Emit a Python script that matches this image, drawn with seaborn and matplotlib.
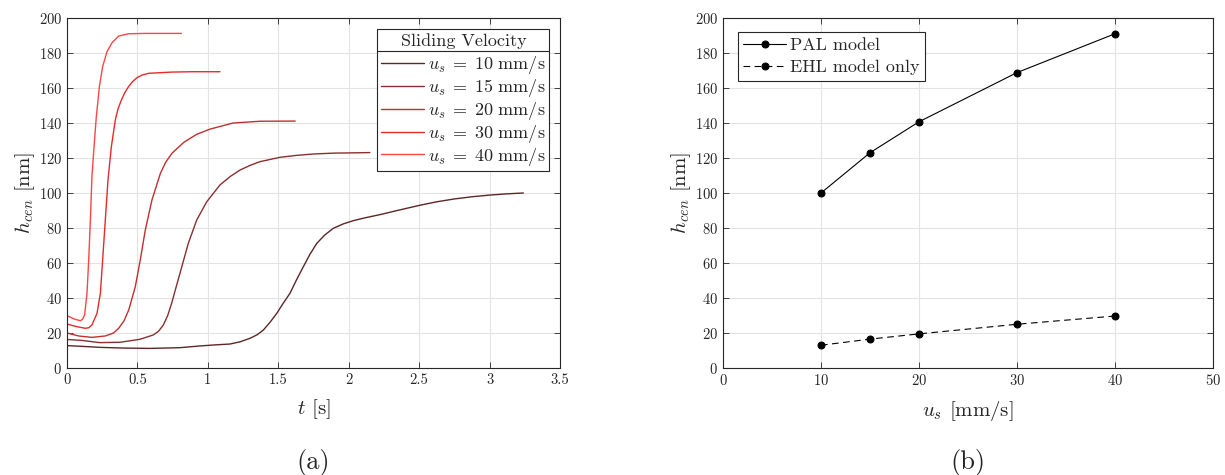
import matplotlib
matplotlib.use("Agg")
import matplotlib.pyplot as plt
import numpy as np
import pandas as pd
import seaborn as sns
from matplotlib.lines import Line2D

# Film thickness history for each sliding velocity (time in s, thickness in nm)
velocities = [10, 15, 20, 30, 40]

t10 = [0.0, 0.1, 0.234, 0.4, 0.589, 0.8, 0.944, 1.05, 1.157, 1.23,
       1.3, 1.35, 1.394, 1.44, 1.489, 1.535, 1.583, 1.63, 1.678, 1.725,
       1.773, 1.83, 1.89, 1.96, 2.033, 2.12, 2.22, 2.35, 2.5, 2.62,
       2.75, 2.88, 3.0, 3.12, 3.24]
h10 = [12.8, 12.4, 11.8, 11.4, 11.2, 11.6, 12.6, 13.2, 13.7, 15.0,
       17.0, 19.0, 21.7, 26.0, 31.2, 37.0, 42.7, 50.5, 57.9, 65.0,
       71.2, 76.0, 79.8, 82.3, 84.2, 85.9, 87.6, 90.1, 92.9, 94.9,
       96.6, 97.9, 98.8, 99.5, 100.0]

t15 = [0.0, 0.1, 0.234, 0.376, 0.518, 0.613, 0.65, 0.684, 0.715, 0.743,
       0.772, 0.802, 0.861, 0.921, 0.992, 1.086, 1.16, 1.228, 1.3, 1.37,
       1.512, 1.63, 1.75, 1.9, 2.08, 2.15]
h15 = [16.3, 15.8, 14.5, 14.7, 16.4, 18.9, 21.0, 24.6, 30.0, 37.0,
       45.5, 54.1, 71.2, 84.6, 95.0, 104.6, 109.5, 113.1, 115.8, 117.9,
       120.4, 121.5, 122.3, 122.8, 123.0, 123.1]

t20 = [0.0, 0.083, 0.177, 0.272, 0.33, 0.367, 0.405, 0.438, 0.485, 0.52,
       0.556, 0.603, 0.663, 0.7, 0.745, 0.83, 0.92, 1.015, 1.18, 1.37, 1.62]
h20 = [20.0, 18.3, 17.5, 18.3, 20.0, 22.7, 27.0, 33.1, 46.5, 61.7,
       78.9, 96.0, 111.2, 117.5, 122.7, 129.0, 133.5, 136.5, 140.0, 141.0, 141.1]

t30 = [0.0, 0.071, 0.13, 0.155, 0.177, 0.213, 0.237, 0.253, 0.272, 0.291,
       0.315, 0.343, 0.362, 0.386, 0.41, 0.438, 0.465, 0.497, 0.53, 0.58,
       0.745, 0.887, 1.086]
h30 = [25.1, 23.6, 22.7, 23.0, 24.6, 31.2, 42.7, 61.7, 84.6, 107.4,
       126.5, 141.7, 148.0, 153.1, 157.3, 160.9, 163.6, 165.9, 167.3, 168.4,
       169.1, 169.3, 169.3]

t40 = [0.0, 0.035, 0.059, 0.095, 0.11, 0.125, 0.142, 0.154, 0.166, 0.177,
       0.192, 0.208, 0.23, 0.253, 0.284, 0.32, 0.367, 0.438, 0.556, 0.812]
h40 = [29.9, 28.6, 27.8, 27.0, 27.8, 30.3, 42.7, 61.7, 84.6, 109.3,
       126.5, 143.6, 160.8, 172.2, 180.8, 185.9, 189.7, 191.0, 191.2, 191.2]

times = [t10, t15, t20, t30, t40]
thicknesses = [h10, h15, h20, h30, h40]
curve_colors = ["#5e2626", "#8a2f2f", "#c0302f", "#e62a2a", "#ff4545"]

# Steady-state central film thickness versus sliding velocity
us_points = [10, 15, 20, 30, 40]
pal_model = [100.0, 123.0, 140.7, 168.8, 191.0]
ehl_model = [13.0, 16.5, 19.5, 25.0, 29.7]

sns.set_style("white")
plt.rcParams.update({
    "font.family": ["cmr10", "DejaVu Serif"],
    "mathtext.fontset": "cm",
    "axes.formatter.use_mathtext": True,
    "axes.edgecolor": "#262626",
    "axes.linewidth": 0.8,
    "xtick.direction": "in",
    "ytick.direction": "in",
    "xtick.top": True,
    "ytick.right": True,
    "xtick.bottom": True,
    "ytick.left": True,
    "xtick.major.size": 4,
    "ytick.major.size": 4,
    "xtick.major.width": 0.6,
    "ytick.major.width": 0.6,
    "xtick.color": "#262626",
    "ytick.color": "#262626",
    "xtick.labelsize": 10.5,
    "ytick.labelsize": 10.5,
})

fig = plt.figure(figsize=(12.25, 4.75), dpi=100)
ax1 = fig.add_axes([67 / 1225, 1 - 368 / 475, (560 - 67) / 1225, 350 / 475])
ax2 = fig.add_axes([723 / 1225, 1 - 368 / 475, (1213 - 723) / 1225, 350 / 475])

grid_kw = dict(color="#e3e3e3", linewidth=0.8)

# ---- (a) transient film build-up ----
frames = []
for v, t, h in zip(velocities, times, thicknesses):
    label = rf"$u_s\;=\;{v}\ \mathrm{{mm/s}}$"
    frames.append(pd.DataFrame({"t": t, "h": h, "label": label}))
curves = pd.concat(frames, ignore_index=True)
labels = list(dict.fromkeys(curves["label"]))

sns.lineplot(data=curves, x="t", y="h", hue="label", hue_order=labels,
             palette=curve_colors, sort=False, estimator=None, linewidth=1.0,
             ax=ax1, legend=False)

ax1.set_xlim(0, 3.5)
ax1.set_ylim(0, 200)
ax1.set_xticks(np.arange(0, 3.51, 0.5))
ax1.set_xticklabels(["0", "0.5", "1", "1.5", "2", "2.5", "3", "3.5"])
ax1.set_yticks(np.arange(0, 201, 20))
ax1.grid(True, **grid_kw)
ax1.set_axisbelow(True)
ax1.set_xlabel(r"$t$ [s]", fontsize=15, labelpad=8)
ax1.set_ylabel(r"$h_{cen}$ [nm]", fontsize=15, labelpad=1)

handles = [Line2D([], [], color=c, linewidth=1.0) for c in curve_colors]
leg1 = ax1.legend(handles, labels, title="Sliding Velocity", loc="upper right",
                  bbox_to_anchor=(0.978, 0.968), fontsize=13, title_fontsize=13,
                  frameon=True, fancybox=False, framealpha=1, edgecolor="#262626",
                  handlelength=2.4, handletextpad=0.2, borderpad=0.2,
                  labelspacing=0.05, borderaxespad=0)
leg1.get_frame().set_linewidth(0.8)
leg1._legend_box.sep = 4

# ---- (b) central film thickness vs sliding velocity ----
sns.lineplot(x=us_points, y=pal_model, color="black", linewidth=0.8,
             marker="o", markersize=5, markeredgecolor="black", ax=ax2,
             label="PAL model")
sns.lineplot(x=us_points, y=ehl_model, color="black", linewidth=0.8,
             linestyle=(0, (6, 4)), marker="o", markersize=5,
             markeredgecolor="black", ax=ax2, label="EHL model only")

ax2.set_xlim(0, 50)
ax2.set_ylim(0, 200)
ax2.set_xticks(np.arange(0, 51, 10))
ax2.set_yticks(np.arange(0, 201, 20))
ax2.grid(True, **grid_kw)
ax2.set_axisbelow(True)
ax2.set_xlabel(r"$u_s$ [mm/s]", fontsize=15, labelpad=8)
ax2.set_ylabel(r"$h_{cen}$ [nm]", fontsize=15, labelpad=1)
leg2 = ax2.legend(loc="upper left", bbox_to_anchor=(0.03, 0.96), fontsize=13,
                  frameon=True, fancybox=False, framealpha=1, edgecolor="#262626",
                  handlelength=2.4, handletextpad=0.2, borderpad=0.3,
                  labelspacing=0.35, borderaxespad=0, numpoints=1)
leg2.get_frame().set_linewidth(0.8)

# Panel captions
fig.text((67 + 560) / 2 / 1225, 1 - 462 / 475, "(a)", ha="center", va="center",
         fontsize=19)
fig.text((723 + 1213) / 2 / 1225, 1 - 462 / 475, "(b)", ha="center", va="center",
         fontsize=19)

# Separator line between legend title and entries
fig.canvas.draw()
renderer = fig.canvas.get_renderer()
lb = leg1.get_frame().get_window_extent(renderer)
tb = leg1.get_title().get_window_extent(renderer)
first = leg1.get_texts()[0].get_window_extent(renderer)
y_sep = 0.5 * (tb.y0 + first.y1)
inv = fig.transFigure.inverted()
(x0f, yf), (x1f, _) = inv.transform([(lb.x0, y_sep), (lb.x1, y_sep)])
fig.add_artist(Line2D([x0f, x1f], [yf, yf], transform=fig.transFigure,
                      color="#262626", linewidth=0.8))

fig.savefig("out.png", dpi=100)
